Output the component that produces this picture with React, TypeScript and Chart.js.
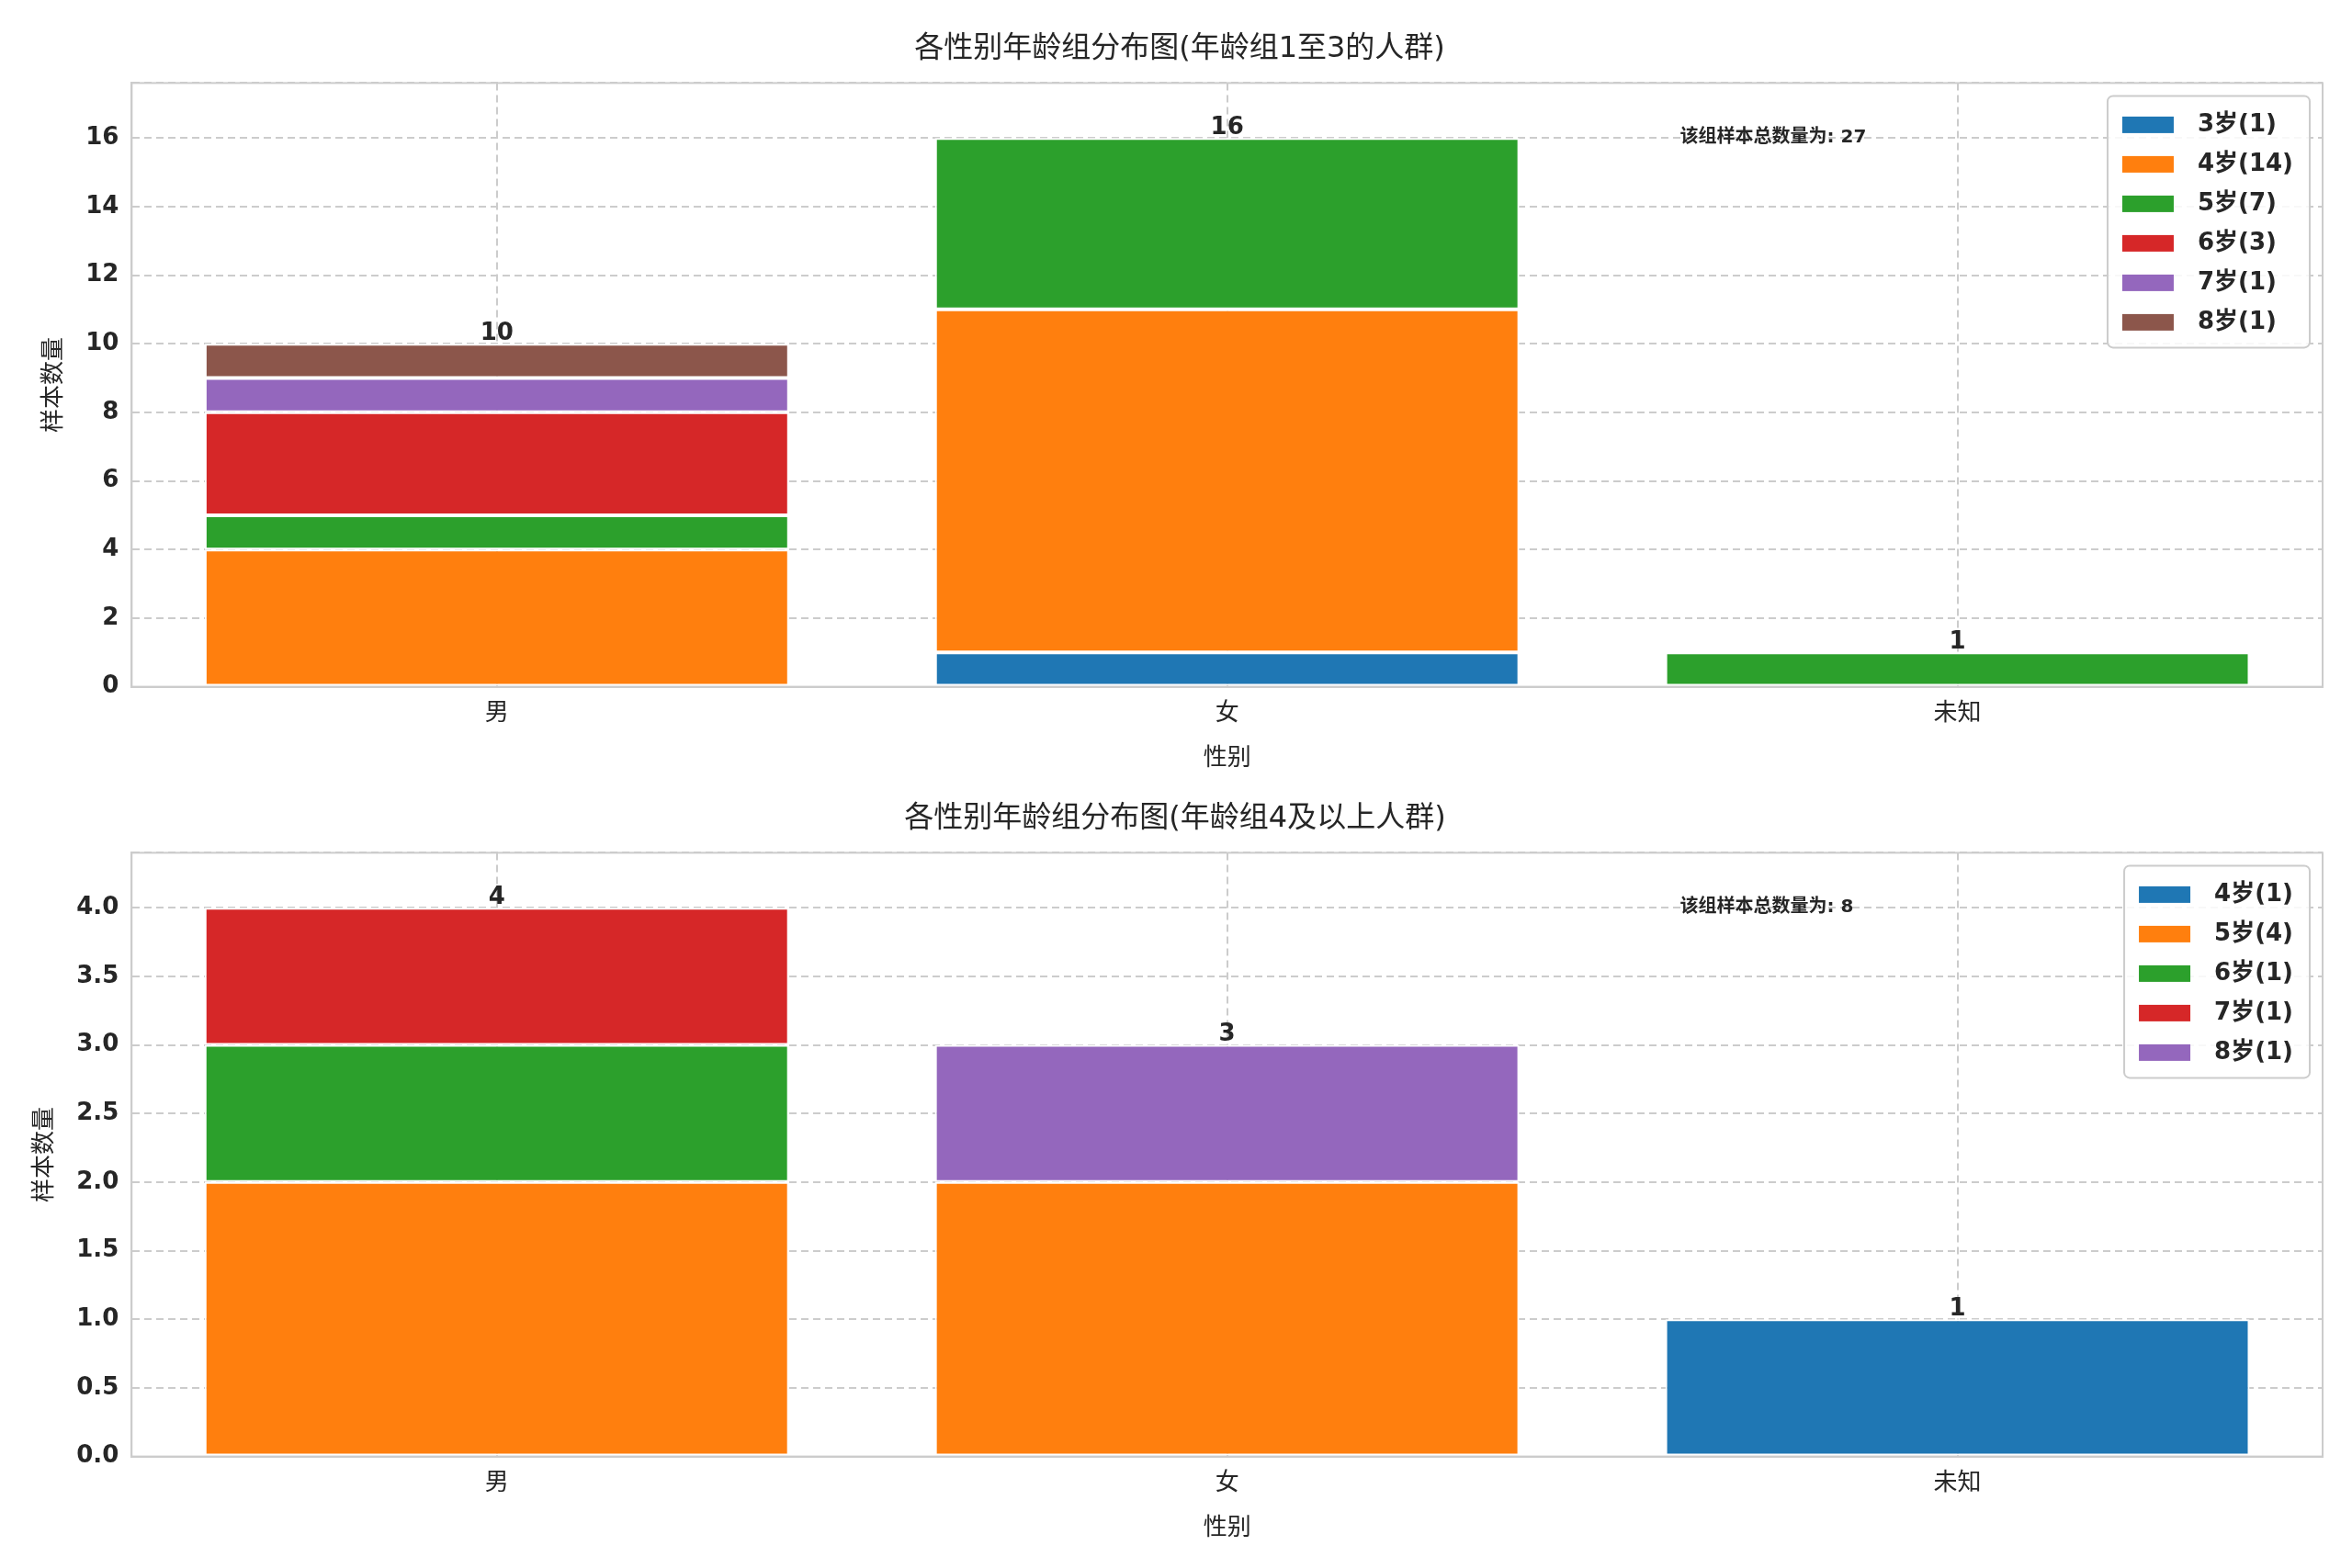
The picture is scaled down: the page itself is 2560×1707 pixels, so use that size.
import React, { useEffect, useRef } from "react";
import { Chart, registerables } from "chart.js";
Chart.register(...registerables);

const categories = ["男", "女", "未知"];
const colors = ["#1f77b4", "#ff7f0e", "#2ca02c", "#d62728", "#9467bd", "#8c564b"];

const topTitle = "各性别年龄组分布图(年龄组1至3的人群)";
const topLabels = ["3岁(1)", "4岁(14)", "5岁(7)", "6岁(3)", "7岁(1)", "8岁(1)"];
const top3 = [0, 1, 0];
const top4 = [4, 10, 0];
const top5 = [1, 5, 1];
const top6 = [3, 0, 0];
const top7 = [1, 0, 0];
const top8 = [1, 0, 0];
const topTotalText = "该组样本总数量为: 27";

const botTitle = "各性别年龄组分布图(年龄组4及以上人群)";
const botLabels = ["4岁(1)", "5岁(4)", "6岁(1)", "7岁(1)", "8岁(1)"];
const bot4 = [0, 0, 1];
const bot5 = [2, 2, 0];
const bot6 = [1, 0, 0];
const bot7 = [1, 0, 0];
const bot8 = [0, 1, 0];
const botTotalText = "该组样本总数量为: 8";

const FONT = "'DejaVu Sans', 'Noto Sans CJK SC', sans-serif";
const TXT = "#262626";

function makeChart(canvas: HTMLCanvasElement, title: string, labels: string[], series: number[][], ymax: number, step: number, decimals: number, note: string, noteY: number, leftPad: number) {
  const totals = categories.map((_, i) => series.reduce((s, a) => s + a[i], 0));
  const extras = {
    id: "extras",
    afterDatasetsDraw(chart: any) {
      const ctx = chart.ctx;
      const x = chart.scales.x, y = chart.scales.y;
      ctx.save();
      ctx.fillStyle = TXT;
      ctx.font = `bold 26px ${FONT}`;
      ctx.textAlign = "center";
      ctx.textBaseline = "bottom";
      totals.forEach((t, i) => ctx.fillText(String(t), x.getPixelForValue(i), y.getPixelForValue(t) + 2));
      ctx.font = `bold 20px ${FONT}`;
      ctx.textAlign = "left";
      ctx.textBaseline = "middle";
      ctx.fillText(note, x.getPixelForValue(1.62), y.getPixelForValue(noteY));
      const area = chart.chartArea;
      const rowH = 43;
      ctx.font = `bold 26px ${FONT}`;
      const tw = Math.max(...labels.map((l) => ctx.measureText(l).width));
      const w = 20 + 56 + 24 + tw + 16;
      const h = labels.length * rowH + 16;
      const bx = area.right - 14 - w, by = area.top + 14;
      ctx.fillStyle = "rgba(255,255,255,0.85)";
      ctx.strokeStyle = "#cccccc";
      ctx.lineWidth = 2;
      ctx.beginPath();
      ctx.roundRect(bx, by, w, h, 6);
      ctx.fill();
      ctx.stroke();
      labels.forEach((l, i) => {
        const cy = by + 10 + rowH * i + rowH / 2;
        ctx.fillStyle = colors[i];
        ctx.fillRect(bx + 16, cy - 9, 56, 18);
        ctx.fillStyle = TXT;
        ctx.fillText(l, bx + 16 + 56 + 26, cy);
      });
      ctx.restore();
    },
  };
  return new Chart(canvas, {
    type: "bar",
    data: {
      labels: categories,
      datasets: series.map((d, i) => ({
        label: labels[i],
        data: d,
        backgroundColor: colors[i],
        borderColor: "#ffffff",
        borderWidth: 2,
        borderSkipped: false,
        categoryPercentage: 1,
        barPercentage: 0.8,
      })),
    },
    options: {
      animation: false,
      responsive: false,
      devicePixelRatio: 1,
      layout: { padding: { left: leftPad, right: 24, top: 6, bottom: 0 } },
      plugins: {
        legend: { display: false },
        tooltip: { enabled: false },
        title: { display: true, text: title, color: TXT, font: { family: FONT, size: 32, weight: "normal" }, padding: { top: 20, bottom: 18 } },
      },
      scales: {
        x: {
          stacked: true,
          grid: { color: "#cccccc", lineWidth: 2, tickLength: 0, offset: false },
          border: { color: "#cccccc", width: 2, dash: [8, 5] },
          ticks: { color: TXT, font: { family: FONT, size: 26 }, padding: 14 },
          title: { display: true, text: "性别", color: TXT, font: { family: FONT, size: 26 }, padding: { top: 4 } },
        },
        y: {
          stacked: true,
          min: 0,
          max: ymax,
          grid: { color: "#cccccc", lineWidth: 2, tickLength: 0 },
          border: { color: "#cccccc", width: 2, dash: [8, 5] },
          ticks: { stepSize: step, color: TXT, font: { family: FONT, size: 26, weight: "bold" }, padding: 14, callback: (v: any) => (Math.abs(Number(v) / step - Math.round(Number(v) / step)) > 1e-6 ? "" : Number(v).toFixed(decimals)) },
          title: { display: true, text: "样本数量", color: TXT, font: { family: FONT, size: 26 } },
        },
      },
    },
    plugins: [
      extras,
      {
        id: "frame",
        afterDraw(chart: any) {
          const a = chart.chartArea, ctx = chart.ctx;
          ctx.save();
          ctx.strokeStyle = "#cccccc";
          ctx.lineWidth = 2;
          ctx.strokeRect(a.left, a.top, a.right - a.left, a.bottom - a.top);
          ctx.restore();
        },
      },
    ],
  } as any);
}

export default function App() {
  const r1 = useRef<HTMLCanvasElement>(null);
  const r2 = useRef<HTMLCanvasElement>(null);
  useEffect(() => {
    const c1 = makeChart(r1.current!, topTitle, topLabels, [top3, top4, top5, top6, top7, top8], 17.6, 2, 0, topTotalText, 16, 32);
    const c2 = makeChart(r2.current!, botTitle, botLabels, [bot4, bot5, bot6, bot7, bot8], 4.4, 0.5, 1, botTotalText, 4, 22);
    return () => { c1.destroy(); c2.destroy(); };
  }, []);
  return (
    <div style={{ width: 2544, background: "#fff" }}>
      <canvas ref={r1} width={2544} height={838} style={{ display: "block" }} />
      <canvas ref={r2} width={2544} height={838} style={{ display: "block" }} />
    </div>
  );
}
